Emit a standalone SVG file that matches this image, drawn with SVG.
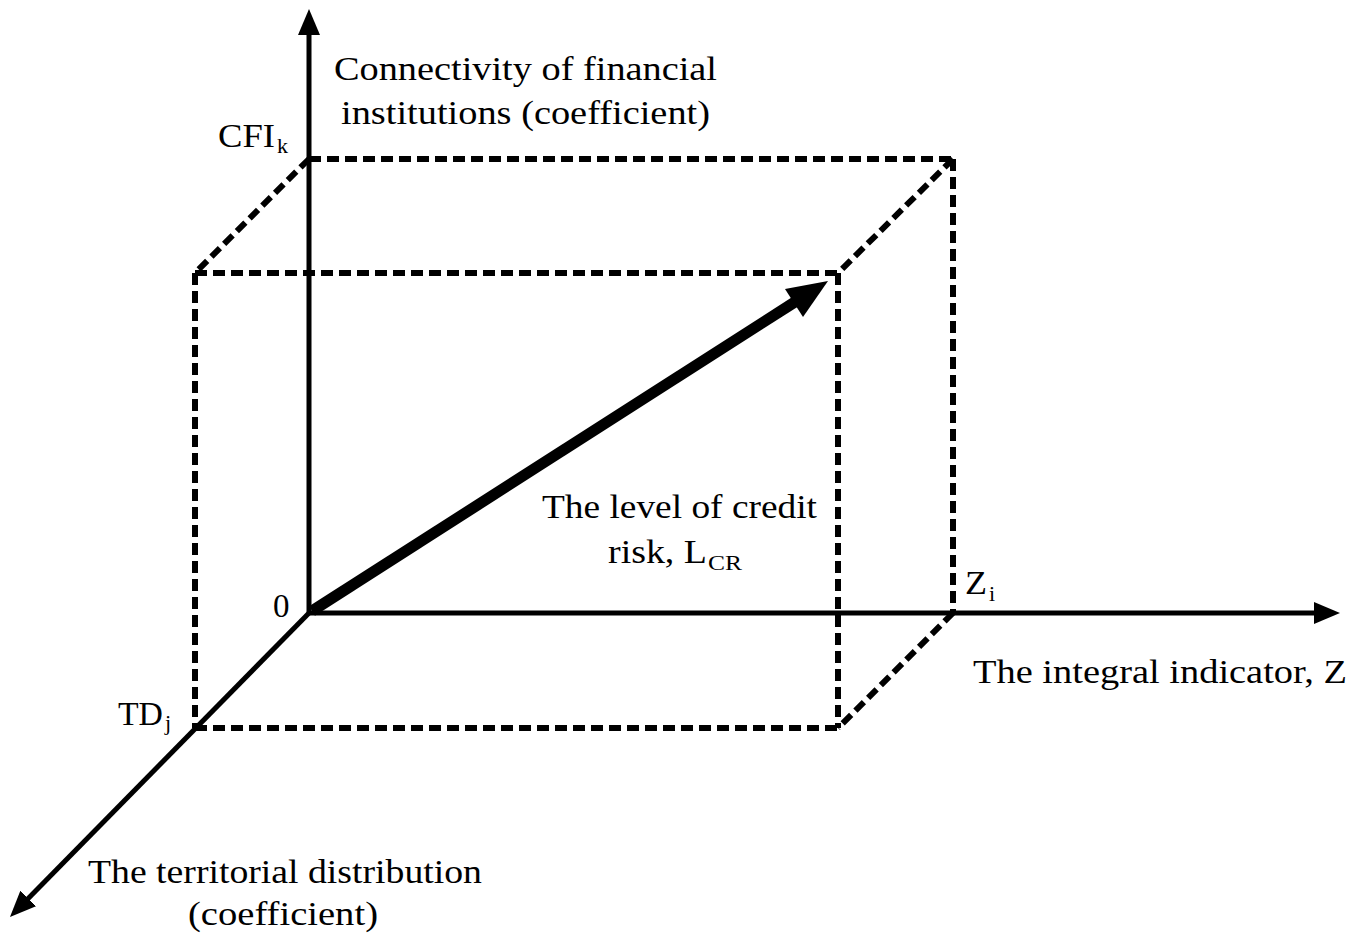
<svg xmlns="http://www.w3.org/2000/svg" width="1362" height="938" viewBox="0 0 1362 938">
<style>
  .t { font-family: "Liberation Serif", Tinos, "Nimbus Roman", "Nimbus Roman No9 L", "Times New Roman", "Noto Serif", FreeSerif, serif; font-size: 33px; fill: #000; }
  .sub { font-size: 22px; }
  .axis { stroke: #000; stroke-width: 5; fill: none; }
  .dash { stroke: #000; stroke-width: 6; fill: none; stroke-dasharray: 12 6; }
  .thick { stroke: #000; stroke-width: 11; fill: none; }
</style>
<defs>
  <marker id="ah" markerUnits="userSpaceOnUse" markerWidth="26" markerHeight="22" viewBox="0 0 26 22" refX="6" refY="11" orient="auto">
    <path d="M0,0 L26,11 L0,22 Z" fill="#000"/>
  </marker>
</defs>
<rect width="1362" height="938" fill="#fff"/>
<g id="box">
  <line class="dash" x1="309" y1="159" x2="953" y2="159"/>
  <line class="dash" x1="309" y1="159" x2="195" y2="273"/>
  <line class="dash" x1="953" y1="159" x2="838" y2="273"/>
  <line class="dash" x1="953" y1="159" x2="953" y2="613"/>
  <line class="dash" x1="953" y1="613" x2="838" y2="728"/>
  <line class="dash" x1="195" y1="273" x2="838" y2="273"/>
  <line class="dash" x1="195" y1="273" x2="195" y2="728"/>
  <line class="dash" x1="838" y1="273" x2="838" y2="728"/>
  <line class="dash" x1="195" y1="728" x2="838" y2="728"/>
</g>
<g id="connectors">
  <line id="axis-y" class="axis" x1="309" y1="613" x2="309" y2="29" marker-end="url(#ah)"/>
  <line id="axis-z" class="axis" x1="307" y1="613" x2="1320" y2="613" marker-end="url(#ah)"/>
  <line id="axis-td" class="axis" x1="310" y1="612" x2="24" y2="902.7" marker-end="url(#ah)"/>
  <line id="lcr" class="thick" x1="312" y1="611" x2="798" y2="300"/>
  <polygon points="828,281 803,317 785,289" fill="#000"/>
</g>
<g id="label-cfi-axis">
  <text class="t" x="334" y="80" textLength="383" lengthAdjust="spacingAndGlyphs">Connectivity of financial</text>
  <text class="t" x="341" y="124" textLength="369" lengthAdjust="spacingAndGlyphs">institutions (coefficient)</text>
</g>
<g id="label-cfik">
  <text class="t" x="218" y="147" textLength="57" lengthAdjust="spacingAndGlyphs">CFI</text>
  <text class="t sub" x="277" y="153">k</text>
</g>
<g id="label-origin">
  <text class="t" x="273" y="617">0</text>
</g>
<g id="label-zi">
  <text class="t" x="965" y="594" textLength="22" lengthAdjust="spacingAndGlyphs">Z</text>
  <text class="t sub" x="989" y="601">i</text>
</g>
<g id="label-z-axis">
  <text class="t" x="973" y="683" textLength="374" lengthAdjust="spacingAndGlyphs">The integral indicator, Z</text>
</g>
<g id="label-tdj">
  <text class="t" x="118" y="725" textLength="45" lengthAdjust="spacingAndGlyphs">TD</text>
  <text class="t sub" x="165" y="730">j</text>
</g>
<g id="label-lcr">
  <text class="t" x="542" y="518" textLength="275" lengthAdjust="spacingAndGlyphs">The level of credit</text>
  <text class="t" x="608" y="563" textLength="99" lengthAdjust="spacingAndGlyphs">risk, L</text>
  <text class="t sub" x="708" y="570" textLength="34" lengthAdjust="spacingAndGlyphs">CR</text>
</g>
<g id="label-td-axis">
  <text class="t" x="88" y="883" textLength="394" lengthAdjust="spacingAndGlyphs">The territorial distribution</text>
  <text class="t" x="188" y="925" textLength="190" lengthAdjust="spacingAndGlyphs">(coefficient)</text>
</g>
</svg>
